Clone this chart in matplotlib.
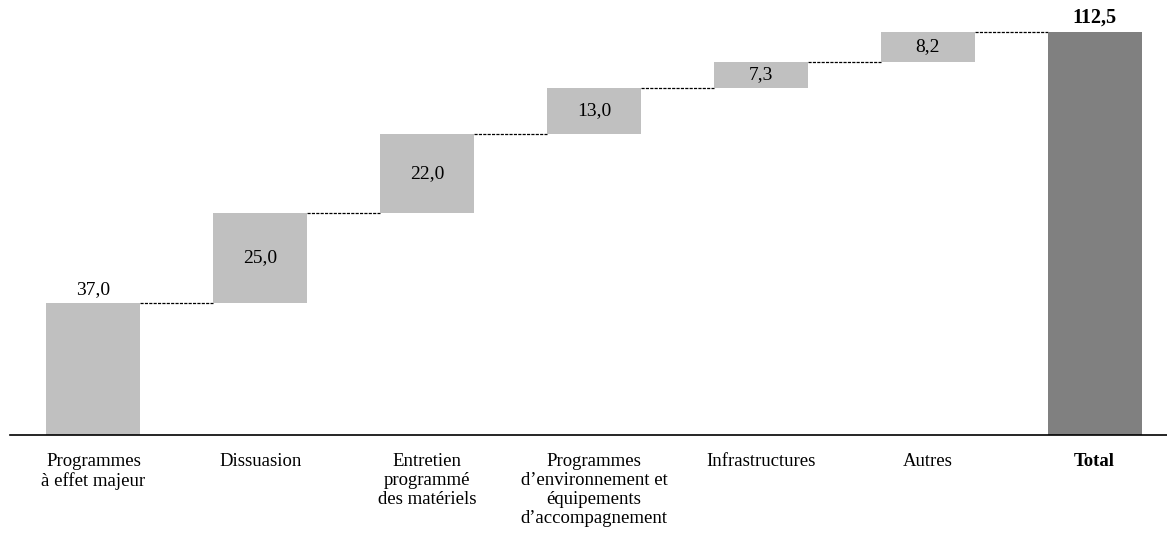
import numpy as np
import matplotlib.pyplot as plt

# budget breakdown (values with French decimal comma in labels)
categories = ["Programmes\nà effet majeur", "Dissuasion", "Entretien\nprogrammé\ndes matériels",
              "Programmes\nd\u2019environnement et\néquipements\nd\u2019accompagnement",
              "Infrastructures", "Autres", "Total"]
values = [37.0, 25.0, 22.0, 13.0, 7.3, 8.2]
total = 112.5

plt.rcParams['font.family'] = ['Liberation Serif', 'DejaVu Serif']

fig = plt.figure(figsize=(11.67, 5.33), dpi=100)
ax = fig.add_axes([10 / 1167, 1 - 435 / 533, 1 - 10 / 1167, 435 / 533])

w = 0.564
x = np.arange(len(categories))
bottoms = np.concatenate([[0], np.cumsum(values)[:-1]])
tops = bottoms + np.array(values)

ax.bar(x[:-1], values, bottom=bottoms, width=w, color='#c0c0c0', zorder=2)
ax.bar(x[-1], total, width=w, color='#808080', zorder=2)

# connectors between steps
for i in range(len(values)):
    ax.plot([x[i] + w / 2, x[i + 1] - w / 2], [tops[i], tops[i]],
            ls=(0, (2.5, 1)), color='black', lw=0.9, zorder=1)

fmt = lambda v: f"{v:.1f}".replace('.', ',')
ax.text(x[0], values[0] + 1.2, fmt(values[0]), ha='center', va='bottom', fontsize=14)
for i in range(1, len(values)):
    ax.text(x[i], bottoms[i] + values[i] / 2, fmt(values[i]), ha='center', va='center', fontsize=14)
ax.text(x[-1], total + 1.2, fmt(total), ha='center', va='bottom', fontsize=14.5, fontweight='bold')

ax.set_xlim(-0.5, 6.5 - 11 / 166.8)
ax.set_ylim(0, 121.5)
ax.set_xticks(x)
ax.set_xticklabels(categories, fontsize=13.5, va='top', linespacing=1.16)
ax.get_xticklabels()[-1].set_fontweight('bold')
ax.tick_params(axis='x', length=0, pad=13)
ax.set_yticks([])
for s in ['top', 'right', 'left']:
    ax.spines[s].set_visible(False)
ax.spines['bottom'].set_linewidth(1.2)

fig.savefig('out.png', dpi=100)
